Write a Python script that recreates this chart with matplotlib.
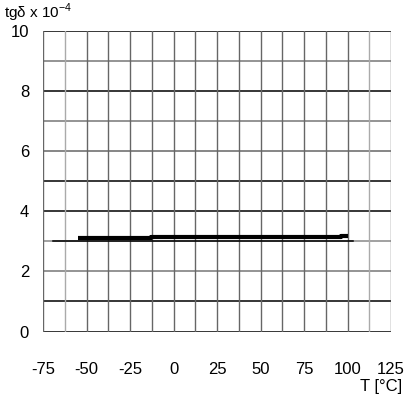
import matplotlib
matplotlib.use("Agg")
import matplotlib.pyplot as plt
import numpy as np

# data
temp = [-55, -13, -13, 96, 96, 100]
tg_delta = [3.12, 3.12, 3.15, 3.15, 3.19, 3.19]
ref_temp = [-69, 103]
ref_val = [3.0, 3.0]
x_ticks = [-75, -50, -25, 0, 25, 50, 75, 100, 125]
y_ticks = [0, 2, 4, 6, 8, 10]

plt.rcParams['font.family'] = ['Liberation Sans Narrow', 'Liberation Sans', 'DejaVu Sans']
plt.rcParams['axes.unicode_minus'] = False

fig = plt.figure(figsize=(4.12, 4.01), dpi=100)
ax = fig.add_axes([0.1044, 0.1733, 0.8447, 0.7494])
ax.set_xlim(-75, 125)
ax.set_ylim(0, 10)

# grid
hcolors = ['black', 'black', '#777777', '#888888', 'black', 'black',
           '#666666', '#777777', 'black', '#777777', 'black']
for v, c in zip(range(0, 11), hcolors):
    ax.axhline(v, color=c, lw=1.1, zorder=1)
vgrid = np.arange(-75, 125.1, 12.5)
for i, v in enumerate(vgrid):
    c = '#666666'
    if i in (1, 15):
        c = '#aaaaaa'
    ax.axvline(v, color=c, lw=1.0, zorder=1)

ax.plot(ref_temp, ref_val, color='black', lw=1.1, zorder=2)
ax.plot(temp, tg_delta, color='black', lw=3, solid_capstyle='butt', zorder=3)

for s in ax.spines.values():
    s.set_visible(False)
ax.set_xticks(x_ticks)
ax.set_yticks(y_ticks)
ax.tick_params(length=0, labelsize=12)
ax.tick_params(axis='x', pad=22)
ax.tick_params(axis='y', pad=10)

fig.text(0.01, 0.968, r'tg$\mathregular{\delta}$ x 10$^{\mathregular{-4}}$', fontsize=11, va='center')
fig.text(0.976, 0.035, 'T [°C]', fontsize=12, ha='right', va='center')

fig.savefig('out.png', dpi=100)
